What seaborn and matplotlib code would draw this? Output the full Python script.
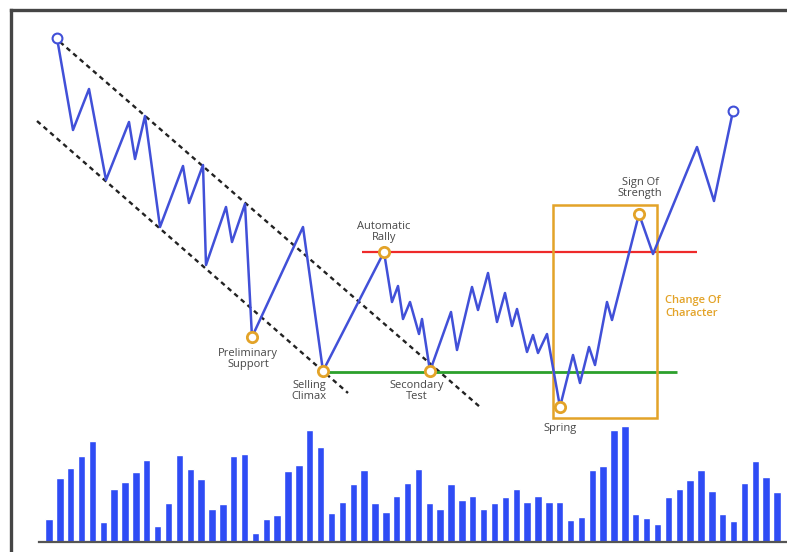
import numpy as np
import pandas as pd
import matplotlib
matplotlib.use('Agg')
import matplotlib.pyplot as plt
import seaborn as sns

sns.set_style('white')
plt.rcParams['font.family'] = ['Open Sans', 'DejaVu Sans']

# price path (x = time position, y = price level)
price_x = [57, 73, 89, 106, 129, 135, 145, 160, 183, 189, 203, 206, 226, 232, 245,
           252, 303, 323, 384, 392, 398, 403, 410, 419, 422, 430, 451, 457, 472,
           478, 488, 497, 505, 512, 517, 527, 533, 538, 547, 560, 573, 580, 589,
           595, 607, 612, 639, 653, 697, 714, 733]
price_y = [514, 422, 463, 372, 430, 393, 436, 325, 386, 349, 387, 287, 345, 310,
           348, 215, 325, 181, 300, 250, 266, 233, 250, 218, 233, 181, 240, 202,
           265, 242, 279, 230, 259, 226, 243, 200, 217, 199, 218, 145, 197, 169,
           205, 187, 250, 232, 338, 298, 405, 351, 441]

# labelled events
events = ['Preliminary\nSupport', 'Selling\nClimax', 'Automatic\nRally',
          'Secondary\nTest', 'Spring', 'Sign Of\nStrength']
event_x = [252, 323, 384, 430, 560, 639]
event_y = [215, 181, 300, 181, 145, 338]

# trend channel
upper_x = [60, 480]
upper_y = [510, 145]
lower_x = [37, 348]
lower_y = [431, 159]

# support / resistance
resist_y = 300
resist_span = [362, 697]
support_y = 180
support_span = [323, 677]

# volume
volume = [23, 64, 74, 86, 101, 20, 53, 60, 70, 82, 16, 39, 87, 73, 63, 33, 38,
          86, 88, 9, 23, 27, 71, 77, 112, 95, 29, 40, 58, 72, 39, 30, 46, 59,
          73, 39, 33, 58, 42, 46, 33, 39, 45, 53, 40, 46, 40, 40, 22, 25, 72,
          76, 112, 116, 28, 24, 18, 45, 53, 62, 72, 51, 28, 21, 59, 81, 65, 50]

blue = '#4150d8'
gold = '#e3a328'

fig = plt.figure(figsize=(7.87, 5.52), dpi=100)
W, H = 787, 552

# main price panel, framed on left and top
ax = fig.add_axes([10.5 / W, 0, 1 - 10.5 / W, 1 - 9.5 / H])
ax.set_xlim(10.5, 787)
ax.set_ylim(0, 542.5)
for s in ['right', 'bottom']:
    ax.spines[s].set_visible(False)
for s in ['left', 'top']:
    ax.spines[s].set_color('#454545')
    ax.spines[s].set_linewidth(2.4)
ax.set_xticks([])
ax.set_yticks([])

ax.plot(upper_x, upper_y, color='#222222', lw=1.7, ls=(0, (2.0, 1.7)), zorder=1)
ax.plot(lower_x, lower_y, color='#222222', lw=1.7, ls=(0, (2.0, 1.7)), zorder=1)
ax.hlines(resist_y, *resist_span, color='#ee2a2a', lw=1.6, zorder=1)
ax.hlines(support_y, *support_span, color='#2ca02c', lw=2.0, zorder=1)

# change of character box
box = plt.Rectangle((553, 134), 104, 213, fill=False, ec=gold, lw=1.8, zorder=1)
ax.add_patch(box)
ax.text(665, 245, 'Change Of\nCharacter', color=gold, fontsize=8, fontweight='semibold',
        ha='left', va='center', linespacing=1.25)

price = pd.DataFrame({'t': price_x, 'p': price_y})
sns.lineplot(data=price, x='t', y='p', color=blue, lw=1.8, sort=False,
             estimator=None, ax=ax, zorder=2)
ax.set_xlabel('')
ax.set_ylabel('')

ax.scatter([price_x[0], price_x[-1]], [price_y[0], price_y[-1]], s=50,
           facecolor='white', edgecolor=blue, lw=1.5, zorder=3)
ax.scatter(event_x, event_y, s=55, facecolor='white', edgecolor=gold, lw=2.0, zorder=3)

label_pos = {
    'Preliminary\nSupport': (-4, -22),
    'Selling\nClimax': (-14, -20),
    'Automatic\nRally': (0, 20),
    'Secondary\nTest': (-13, -20),
    'Spring': (0, -21),
    'Sign Of\nStrength': (1, 26),
}
for name, x, y in zip(events, event_x, event_y):
    dx, dy = label_pos[name]
    ax.text(x + dx, y + dy, name, ha='center', va='center', fontsize=8,
            color='#474747', linespacing=1.1)

# volume panel
vax = fig.add_axes([39 / W, (H - 542) / H, (787 - 39) / W, 122 / H])
vol = pd.DataFrame({'bar': np.arange(len(volume)), 'v': volume})
sns.barplot(data=vol, x='bar', y='v', color='#2f4cf5', saturation=1,
            width=0.68, ax=vax)
n = len(volume)
pad = (49 - 39) / 10.87
vax.set_xlim(-pad, n - 1 + (787 - 777) / 10.87)
vax.set_ylim(0, 122)
vax.set_facecolor('none')
vax.set_xticks([])
vax.set_yticks([])
vax.set_xlabel('')
vax.set_ylabel('')
for s in ['left', 'right', 'top']:
    vax.spines[s].set_visible(False)
vax.spines['bottom'].set_color('#555555')
vax.spines['bottom'].set_linewidth(1.6)

fig.savefig('out.png', dpi=100)
